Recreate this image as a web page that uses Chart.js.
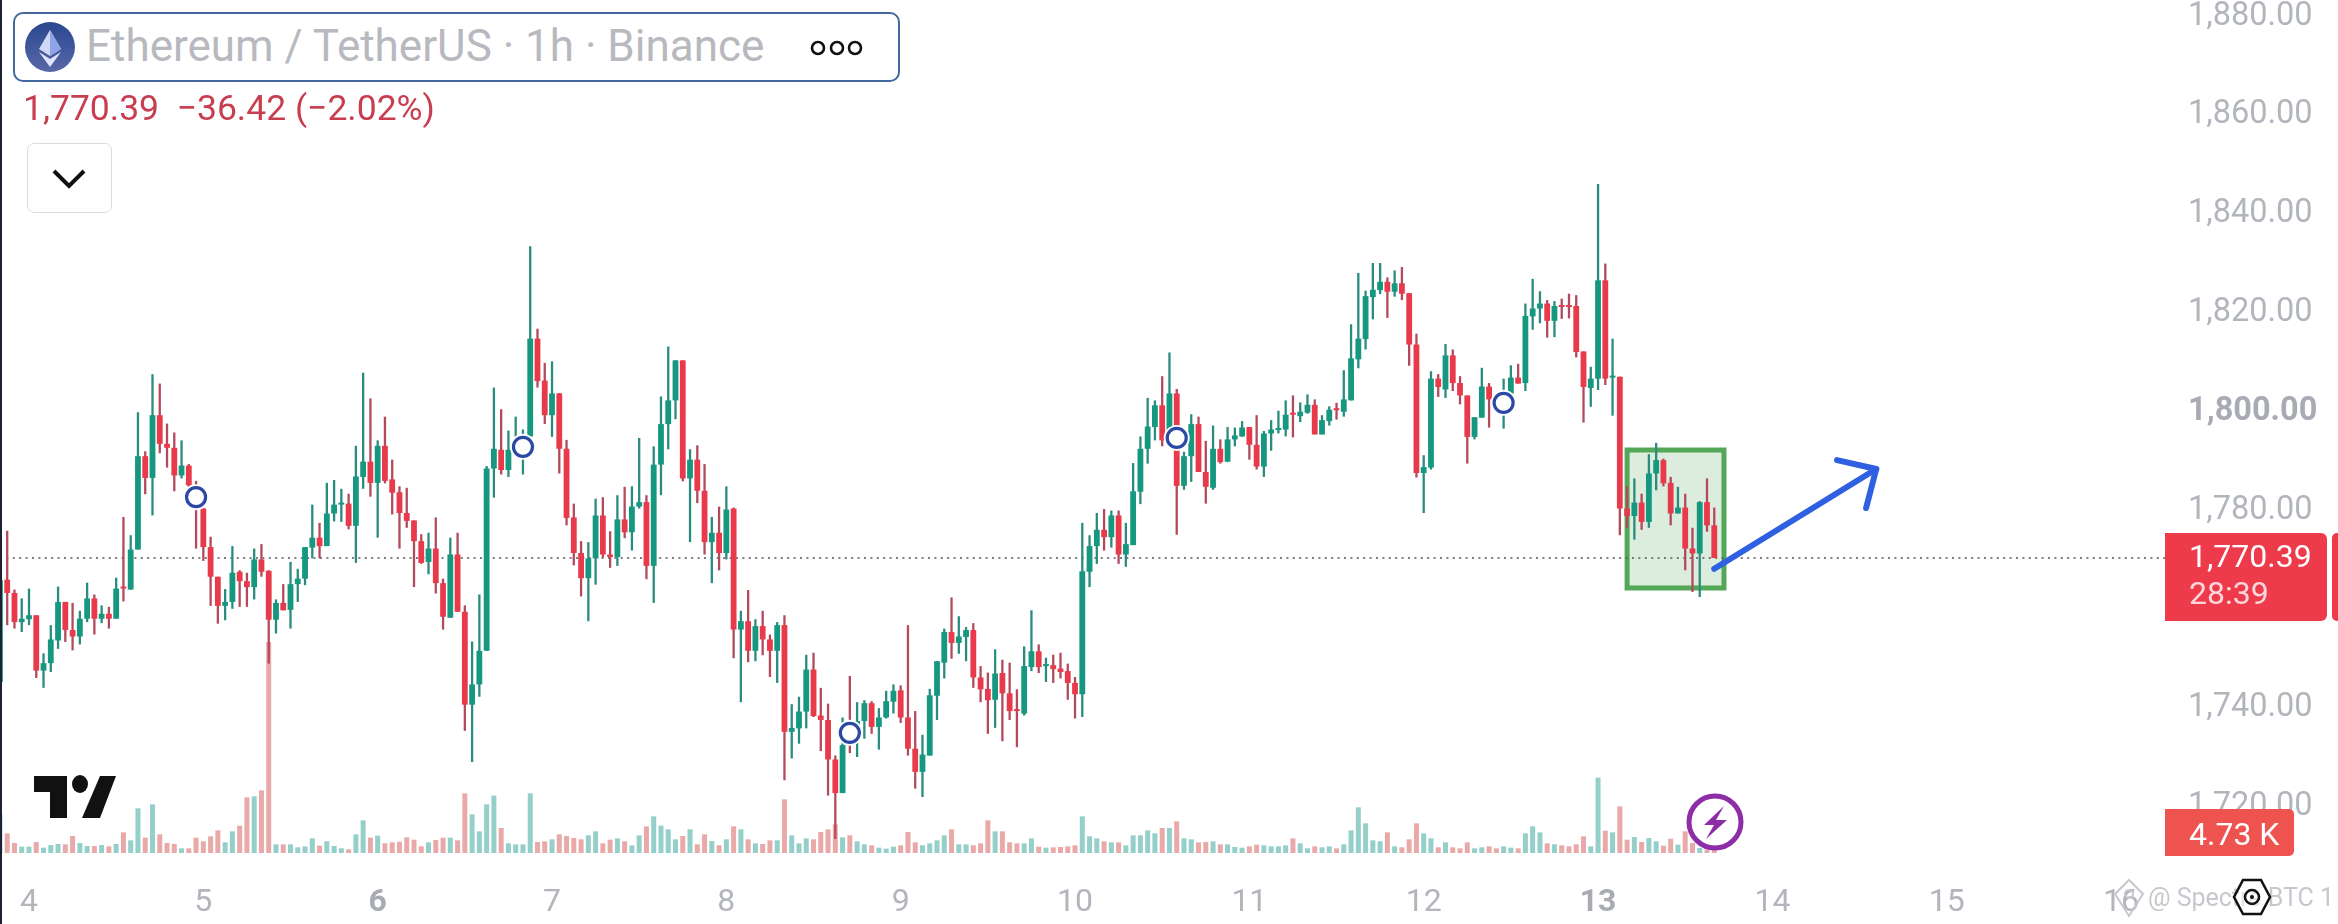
<!DOCTYPE html>
<html>
<head>
<meta charset="utf-8">
<script src="https://cdn.jsdelivr.net/npm/chart.js@4"></script>
<style>
html,body{margin:0;padding:0;background:#fff;width:2338px;height:924px;overflow:hidden;font-family:Roboto,sans-serif}
#c{position:absolute;left:0;top:0}
.t{position:absolute;white-space:pre;line-height:1}
.box{position:absolute;box-sizing:border-box}
svg{position:absolute;overflow:visible}
</style>
</head>
<body>
<canvas id="c" width="2338" height="924"></canvas>
<div class="box" style="left:0;top:0;width:2px;height:924px;background:#1c2230"></div>
<div class="box" style="left:13px;top:12px;width:887px;height:70px;border:2.5px solid #41699e;border-radius:10px;background:#fff"></div>
<svg style="left:0;top:0" width="120" height="90">
<defs><linearGradient id="g" x1="0" y1="0" x2="0" y2="1"><stop offset="0" stop-color="#2a4790"/><stop offset="1" stop-color="#5868a8"/></linearGradient></defs>
<ellipse cx="50" cy="47" rx="25" ry="25" fill="url(#g)"/>
<polygon points="50,30 39,49 50,56 61,49" fill="#cfd8f4"/>
<polygon points="50,30 50,56 61,49" fill="#8fa4e4"/>
<polygon points="39,52 50,67 61,52 50,59" fill="#dfe5fa"/>
</svg>
<div class="t" style="left:86px;top:24px;font-size:44px;color:#b7b9bf">Ethereum / TetherUS · 1h · Binance</div>
<svg style="left:0;top:0" width="900" height="90" fill="none" stroke="#111" stroke-width="2.6">
<circle cx="818" cy="48" r="6"/><circle cx="837" cy="48" r="6"/><circle cx="855" cy="48" r="6"/>
</svg>
<div class="t" style="left:23px;top:91px;font-size:35.5px;color:#c83e50">1,770.39  −36.42 (−2.02%)</div>
<div class="box" style="left:27px;top:143px;width:85px;height:70px;border:1.5px solid #dcdcdc;border-radius:7px;background:#fff"></div>
<svg style="left:0;top:0" width="120" height="220" fill="none" stroke="#111" stroke-width="4"><polyline points="54,171 69,186 84,171"/></svg>
<svg style="left:0;top:0;z-index:2" width="130" height="830" fill="#111">
<polygon points="34,776 67,776 67,818 50,818 50,792 34,792"/>
<ellipse cx="80" cy="784" rx="8" ry="9"/>
<polygon points="100,776 116,776 100,818 82,818"/>
</svg>
<svg style="left:0;top:0;z-index:2" width="1760" height="860">
<circle cx="1715" cy="822" r="26" fill="#fff" stroke="#8e2da8" stroke-width="5"/>
<polygon points="1724,806 1704,825 1714,825 1706,839 1727,820 1716,820" fill="#8e2da8"/>
</svg>
<div class="box" style="left:2165px;top:533px;width:162px;height:88px;background:#ee3b4b;border-radius:0 6px 6px 0"></div>
<div class="box" style="left:2332px;top:533px;width:6px;height:88px;background:#ee3b4b;border-radius:5px 0 0 5px"></div>
<div class="t" style="left:2189px;top:540px;font-size:32px;color:#fff">1,770.39</div>
<div class="t" style="left:2189px;top:577px;font-size:32px;color:#fbd6da">28:39</div>
<div class="box" style="left:2165px;top:809px;width:129px;height:47px;background:#ef5350;border-radius:0 5px 5px 0"></div>
<div class="t" style="left:2189px;top:818px;font-size:32px;color:#fff">4.73 K</div>
<div class="t" style="left:2148px;top:885px;font-size:25px;color:#c6c8ce">@ Spectre BTC 1</div>
<svg style="left:0;top:0" width="2338" height="924" fill="none">
<polygon points="2129,880 2143,894 2129,916 2115,894" stroke="#c6c8ce" stroke-width="2"/>
<circle cx="2129" cy="894" r="4" stroke="#c6c8ce" stroke-width="2"/>
<polygon points="2243,880 2261,880 2270,897 2261,914 2243,914 2234,897" stroke="#111" stroke-width="2.5" fill="#fff" fill-opacity=".5"/>
<circle cx="2252" cy="897" r="7" stroke="#111" stroke-width="2.5"/>
<circle cx="2252" cy="897" r="2" fill="#111"/>
</svg>
<script>
const FIRST_HOUR = -4;
const dayLabels = ['4','5','6','7','8','9','10','11','12','13','14','15','16'];
const dayHours = [0,24,48,72,96,120,144,168,192,216,240,264,288];
const boldDays = ['6','13'];
const priceTicks = [1720,1740,1780,1800,1820,1840,1860,1880];
const boldPrice = 1800;
const lastPrice = 1770.39;
const opens = [1745.3,1766.0,1763.3,1757.4,1758.0,1758.8,1747.6,1749.1,1753.7,1761.5,1755.8,1754.5,1758.1,1762.2,1758.1,1759.1,1758.1,1764.4,1764.0,1772.1,
1791.0,1786.6,1799.3,1793.5,1792.7,1787.1,1789.1,1785.1,1780.4,1772.6,1766.6,1760.7,1761.5,1767.6,1765.7,1764.5,1770.1,1767.8,1757.9,1761.3,
1759.9,1765.1,1766.2,1772.5,1774.5,1772.8,1779.4,1781.2,1781.4,1776.9,1786.8,1789.9,1785.6,1793.1,1786.3,1783.7,1779.5,1778.0,1773.8,1769.6,
1772.3,1765.3,1758.3,1771.1,1759.5,1740.7,1744.8,1751.6,1788.5,1792.3,1788.2,1791.5,1791.9,1795.0,1814.8,1806.3,1799.3,1803.7,1792.5,1778.6,
1771.4,1766.3,1770.3,1779.0,1771.1,1770.6,1778.2,1775.6,1780.8,1781.7,1768.8,1789.3,1797.5,1802.3,1810.4,1786.5,1790.3,1784.0,1773.6,1775.5,
1771.4,1780.4,1755.9,1757.6,1751.6,1756.6,1753.9,1751.6,1756.8,1735.2,1735.9,1739.3,1747.8,1738.5,1737.6,1729.6,1722.8,1736.0,1736.5,1737.4,
1741.0,1736.2,1738.1,1741.3,1743.6,1738.1,1731.8,1727.1,1730.4,1742.5,1749.2,1755.4,1753.2,1754.4,1755.8,1746.2,1743.9,1741.7,1747.1,1743.0,
1739.6,1738.9,1748.3,1751.5,1748.5,1748.7,1748.0,1747.5,1745.1,1742.8,1767.6,1772.8,1776.1,1774.6,1779.0,1771.1,1773.0,1783.8,1792.5,1796.9,
1801.3,1795.6,1803.7,1785.0,1791.0,1797.5,1787.8,1784.6,1792.5,1789.9,1794.4,1795.0,1796.9,1793.3,1788.9,1795.6,1796.3,1796.4,1799.8,1799.1,
1799.8,1801.4,1795.4,1798.1,1800.6,1800.0,1802.3,1810.6,1814.7,1823.2,1824.6,1826.3,1824.3,1826.0,1824.0,1813.6,1787.6,1788.7,1806.7,1804.5,
1811.4,1805.8,1803.3,1794.9,1798.8,1805.1,1802.5,1802.7,1803.7,1806.9,1805.8,1819.3,1820.9,1821.9,1818.4,1821.5,1821.5,1821.4,1812.2,1804.8,
1806.7,1826.6,1806.9,1807.1,1780.4,1778.9,1781.6,1777.7,1787.5,1790.2,1785.6,1779.4,1780.6,1772.3,1771.3,1781.7,1777.0];
const closes = [1765.9,1763.3,1757.4,1758.1,1758.8,1747.6,1749.1,1753.9,1761.5,1755.8,1754.5,1758.1,1762.2,1758.1,1759.1,1758.1,1764.2,1764.2,1772.1,1791.0,
1786.6,1799.3,1793.5,1792.7,1787.1,1789.1,1785.1,1780.4,1772.6,1766.6,1760.7,1761.5,1767.4,1765.7,1764.5,1770.1,1767.6,1757.9,1761.3,1759.8,
1765.1,1766.2,1772.6,1774.5,1772.8,1779.4,1781.2,1781.5,1776.9,1786.9,1789.9,1785.6,1793.1,1786.0,1783.6,1779.5,1777.9,1773.8,1769.4,1772.3,
1765.3,1758.5,1771.1,1759.5,1740.7,1744.8,1751.6,1788.5,1792.5,1788.2,1792.3,1793.4,1795.0,1814.8,1806.2,1799.3,1803.7,1792.5,1778.5,1771.4,
1766.3,1770.3,1779.0,1771.1,1770.6,1778.2,1775.6,1780.8,1781.7,1768.8,1789.3,1797.5,1802.3,1810.4,1786.5,1790.3,1784.0,1773.6,1775.5,1771.4,
1780.2,1755.9,1757.6,1751.6,1756.6,1753.9,1751.6,1756.8,1735.2,1736.0,1739.3,1747.8,1738.4,1737.6,1729.6,1722.8,1732.5,1733.1,1737.4,1741.0,
1736.2,1738.1,1741.4,1743.5,1738.1,1731.8,1727.1,1730.6,1742.6,1749.5,1755.4,1753.2,1754.5,1755.8,1746.2,1743.8,1741.6,1747.0,1743.0,1739.4,
1739.4,1748.5,1751.5,1748.3,1748.7,1747.9,1747.3,1745.1,1742.8,1767.7,1772.8,1776.1,1774.6,1779.0,1771.1,1773.2,1783.9,1792.5,1797.0,1801.3,
1794.2,1803.7,1785.0,1791.0,1797.5,1787.8,1784.8,1792.5,1789.8,1794.4,1795.2,1796.8,1793.3,1788.9,1795.6,1796.4,1796.6,1799.4,1799.4,1800.0,
1801.4,1795.4,1798.3,1800.4,1800.3,1802.5,1810.8,1814.8,1823.4,1824.7,1826.3,1824.3,1826.0,1823.9,1813.6,1787.6,1788.8,1806.7,1805.0,1811.4,
1805.8,1803.3,1794.9,1798.9,1805.1,1802.5,1801.3,1804.0,1806.9,1805.7,1819.4,1820.9,1821.9,1818.4,1821.4,1821.2,1821.2,1812.1,1805.0,1806.7,
1826.6,1806.7,1807.2,1780.4,1778.9,1781.6,1777.7,1787.5,1790.2,1785.5,1779.4,1780.6,1772.3,1771.3,1781.7,1777.0,1770.39];
const highs = [1765.9,1775.9,1764.0,1762.2,1764.2,1758.8,1751.1,1756.8,1764.6,1761.5,1761.3,1759.7,1765.4,1763.0,1760.8,1760.5,1766.4,1778.7,1775.0,1799.9,
1792.0,1807.6,1805.7,1797.6,1795.8,1794.2,1789.4,1786.0,1780.6,1774.7,1766.6,1764.1,1772.8,1767.9,1767.4,1772.3,1773.2,1767.9,1762.0,1765.1,
1769.6,1768.2,1772.6,1781.2,1777.5,1785.6,1786.2,1784.4,1783.4,1793.1,1807.9,1802.7,1794.2,1799.0,1790.3,1784.9,1784.6,1778.0,1775.2,1775.5,
1778.6,1766.2,1774.5,1775.5,1760.8,1753.5,1763.0,1789.0,1804.9,1800.5,1796.2,1799.0,1796.4,1833.5,1816.8,1809.9,1810.2,1803.8,1794.3,1781.4,
1773.8,1773.6,1782.4,1782.7,1775.8,1783.1,1784.8,1784.9,1794.7,1783.1,1793.0,1803.1,1813.2,1810.4,1810.4,1792.4,1793.2,1789.4,1778.7,1780.8,
1784.9,1780.6,1759.7,1763.9,1758.0,1759.7,1754.9,1757.4,1758.8,1740.8,1742.3,1750.8,1751.2,1744.1,1740.9,1730.4,1738.1,1746.5,1741.2,1741.6,
1741.4,1740.0,1743.5,1744.8,1744.6,1756.8,1739.4,1734.6,1743.9,1749.5,1756.1,1762.4,1758.6,1756.4,1757.2,1748.5,1747.2,1751.9,1749.8,1749.2,
1743.8,1752.5,1759.8,1752.9,1750.2,1750.8,1751.2,1749.0,1746.3,1777.5,1775.0,1779.5,1780.3,1780.0,1780.0,1777.5,1789.6,1795.0,1802.8,1802.3,
1807.2,1812.0,1804.6,1791.9,1799.5,1799.0,1794.1,1797.2,1794.4,1796.9,1796.8,1798.1,1796.9,1799.3,1796.1,1798.3,1800.2,1802.3,1803.3,1801.9,
1803.5,1802.5,1799.3,1801.1,1801.8,1808.4,1817.7,1828.1,1824.5,1830.1,1830.1,1827.2,1828.6,1829.3,1824.0,1815.8,1791.2,1808.2,1807.6,1813.7,
1812.6,1807.2,1803.3,1798.9,1808.9,1805.8,1803.0,1806.7,1809.4,1809.7,1821.9,1826.9,1824.4,1822.6,1822.4,1822.9,1823.9,1823.6,1812.2,1809.1,
1846.1,1830.0,1814.8,1807.1,1784.9,1786.5,1783.4,1791.4,1793.7,1790.5,1786.8,1784.8,1783.4,1776.5,1781.9,1786.5,1780.6];
const lows = [1745.3,1756.8,1756.1,1755.4,1756.8,1746.1,1744.1,1747.3,1752.0,1753.4,1751.7,1752.9,1757.4,1754.9,1757.2,1756.1,1758.1,1761.6,1764.0,1772.1,
1783.3,1779.0,1791.6,1788.7,1783.9,1786.5,1784.8,1772.3,1769.8,1760.7,1757.1,1757.8,1760.1,1760.5,1760.5,1762.0,1766.6,1749.0,1755.1,1759.8,
1756.1,1761.5,1764.9,1770.3,1770.3,1772.8,1777.8,1777.7,1776.2,1769.4,1784.4,1782.8,1774.5,1785.5,1779.2,1772.3,1776.5,1764.5,1769.2,1767.1,
1763.2,1755.9,1758.3,1759.5,1735.4,1729.1,1742.3,1751.6,1782.6,1787.3,1786.8,1790.9,1787.3,1795.0,1804.9,1797.5,1794.9,1787.5,1777.0,1768.9,
1762.6,1757.6,1765.0,1770.5,1768.4,1768.8,1774.4,1771.9,1780.4,1766.1,1761.3,1783.1,1792.4,1798.5,1785.9,1773.6,1781.5,1771.1,1765.3,1767.9,
1770.1,1750.1,1741.2,1749.3,1749.5,1750.7,1746.3,1745.1,1725.4,1729.8,1732.8,1735.9,1738.2,1731.3,1722.3,1713.5,1722.8,1730.9,1730.1,1733.8,
1734.8,1731.6,1737.9,1738.9,1737.0,1730.4,1723.7,1722.0,1730.4,1737.6,1746.0,1750.0,1751.0,1749.5,1744.1,1741.2,1734.8,1736.0,1733.3,1737.6,
1732.1,1738.5,1747.5,1747.1,1745.3,1745.1,1746.0,1741.7,1737.9,1738.2,1764.5,1769.2,1771.9,1772.5,1769.2,1768.6,1773.0,1781.3,1789.5,1794.2,
1793.0,1794.9,1775.1,1784.2,1785.8,1787.8,1781.4,1784.2,1789.5,1789.8,1793.0,1794.9,1790.3,1788.3,1786.8,1792.1,1795.6,1795.0,1794.8,1797.9,
1799.6,1795.4,1795.4,1797.2,1798.4,1799.0,1802.3,1808.8,1812.6,1818.7,1823.8,1819.0,1823.3,1822.6,1809.3,1786.7,1779.5,1788.3,1803.0,1802.8,
1804.2,1801.5,1789.5,1794.4,1798.8,1796.8,1801.0,1796.6,1803.7,1805.7,1804.2,1816.6,1817.9,1815.0,1815.1,1818.8,1818.9,1811.0,1797.8,1801.0,
1804.4,1805.4,1799.2,1775.0,1776.5,1774.1,1776.1,1776.5,1784.1,1784.9,1777.0,1779.4,1767.9,1763.5,1762.5,1775.7,1770.39];
const volumes = [46.4,23.6,12,7.6,7.6,13.2,6.4,9.6,10.8,10.4,20.4,12,8.4,8.4,9.6,8,10.8,24.8,15.2,53.6,
18.4,58.4,22.4,12,10.8,5.6,5.6,18.4,14,20,27.2,12.8,26,32.8,66.8,68,75.2,253.2,10.4,10.4,
10.4,6.8,8,17.6,8.8,14,8.4,5.6,4.4,22.4,39.2,18.4,20.8,11.6,12.8,13.6,18.8,16,8,12.8,
15.6,18.4,18.4,15.2,71.6,46.4,26,58.4,68.8,30,11.6,10.4,10.4,71.6,13.2,14,16.4,22.4,20.4,18,
16.4,21.2,26,11.6,16,17.6,14,9.2,21.2,32,44,32.8,28.4,16.4,20.4,28.4,10.4,22.4,14.4,9.2,
16.4,32,28.4,16.4,11.6,10.8,15.2,15.2,64.4,21.2,11.6,17.6,16.4,25.2,28.4,34.4,18.8,21.2,14,10.4,
9.2,6.4,5.2,7.6,9.2,25.2,12.8,9.2,11.6,15.2,21.2,28.4,10.4,10.4,9.2,11.6,39.2,26,26,12.8,
11.6,11.6,17.6,7.6,6.4,6.8,7.2,8,9.2,44,20,17.6,14,12.8,12.8,9.2,21.2,21.2,27.2,23.6,
30,30,38,17.6,16.4,12.8,13.2,14,10.4,10.4,7.2,6.4,8,10,9.2,8,8,9.2,17.6,11.6,
5.6,8,6.8,8,5.6,10.4,27.2,54.8,35.6,15.2,14,24.8,8,6.8,16.4,35.6,23.6,17.6,6.8,12.8,
6.8,5.6,12.8,5.6,6.8,8,5.6,8,6.4,5.6,23.6,32,24.8,11.6,10.4,9.2,8,10.4,20,8,
90.4,26.8,24.8,56,16,19.2,13.2,18,14,8.8,17.2,10,26,12,6,4,4.73];
const ideaHours = [23,68,113,158,203];
const ideaPrices = [1782.7,1792.9,1735.0,1794.7,1801.8];
const boxHours = [220,233.34];
const boxPrices = [1764.32,1792.25];
const arrowHours = [232.0,254.3];
const arrowPrices = [1768.2,1788.4];
const arrowWingA = [248.9,1790.2];
const arrowWingB = [252.9,1780.5];

const GREEN='#15987f', RED='#e93a4c', GREEN_W='#2a8c7e', RED_W='#b24a5c', GREEN_V='#94cfc9', RED_V='#eaa9a9';
const hours = opens.map((_,i)=>FIRST_HOUR+i);
const up = i => closes[i] >= opens[i];
const XMIN=-3.992, XMAX=294.05, YMIN=1710.67, YMAX=1883.35, VMAX=1023.6;
const dayAt = v => dayLabels[dayHours.indexOf(v)];
const isBoldDay = ctx => !!ctx.tick && boldDays.includes(dayAt(ctx.tick.value));
const isBoldPrice = ctx => !!ctx.tick && ctx.tick.value===boldPrice;
const noPad = s => { s.paddingTop=0; s.paddingBottom=0; s.paddingLeft=0; s.paddingRight=0; };

const bg = {
  id:'box',
  beforeDatasetsDraw(ch){
    const {x,y}=ch.scales, c=ch.ctx;
    const l=x.getPixelForValue(boxHours[0]), r=x.getPixelForValue(boxHours[1]);
    const t=y.getPixelForValue(boxPrices[1]), b=y.getPixelForValue(boxPrices[0]);
    c.save();
    c.fillStyle='#dcecdd'; c.fillRect(l,t,r-l,b-t);
    c.strokeStyle='#53a858'; c.lineWidth=5; c.strokeRect(l,t,r-l,b-t);
    c.restore();
  },
  afterDatasetsDraw(ch){
    const {x,y}=ch.scales, c=ch.ctx;
    const P=(h,p)=>[x.getPixelForValue(h),y.getPixelForValue(p)];
    const a=P(arrowHours[0],arrowPrices[0]), b=P(arrowHours[1],arrowPrices[1]);
    const w1=P(...arrowWingA), w2=P(...arrowWingB);
    c.save();
    c.strokeStyle='#2f60e2'; c.lineWidth=6; c.lineCap='round'; c.lineJoin='round';
    c.beginPath(); c.moveTo(...a); c.lineTo(...b); c.stroke();
    c.beginPath(); c.moveTo(...w1); c.lineTo(...b); c.lineTo(...w2); c.stroke();
    c.restore();
  }
};

new Chart(document.getElementById('c'),{
  type:'bar',
  data:{datasets:[
    {type:'bar',label:'Volume',yAxisID:'yV',order:6,grouped:false,barPercentage:1,maxBarThickness:5,
     data:hours.map((h,i)=>({x:h,y:volumes[i]})),
     backgroundColor:hours.map((_,i)=>up(i)?GREEN_V:RED_V)},
    {type:'line',label:'Last',yAxisID:'y',order:5,data:[{x:XMIN,y:lastPrice},{x:XMAX,y:lastPrice}],
     borderColor:'#555',borderWidth:1.6,borderDash:[2,4.4],pointRadius:0},
    {type:'bar',label:'Wick',yAxisID:'y',order:4,grouped:false,barPercentage:1,maxBarThickness:2.3,
     data:hours.map((h,i)=>({x:h,y:[lows[i],highs[i]]})),
     backgroundColor:hours.map((_,i)=>up(i)?GREEN_W:RED_W)},
    {type:'bar',label:'Body',yAxisID:'y',order:3,grouped:false,barPercentage:1,maxBarThickness:7.2,minBarLength:2,
     data:hours.map((h,i)=>({x:h,y:[Math.min(opens[i],closes[i]),Math.max(opens[i],closes[i])]})),
     backgroundColor:hours.map((_,i)=>up(i)?GREEN:RED)},
    {type:'line',label:'Halo',yAxisID:'y',order:2,showLine:false,data:ideaHours.map((h,i)=>({x:h,y:ideaPrices[i]})),
     pointRadius:13,pointBackgroundColor:'#fff',pointBorderWidth:0,pointStyle:'circle'},
    {type:'line',label:'Ideas',yAxisID:'y',order:1,showLine:false,data:ideaHours.map((h,i)=>({x:h,y:ideaPrices[i]})),
     pointRadius:9.5,pointBackgroundColor:'#fff',pointBorderColor:'#2a49a4',pointBorderWidth:3.2,pointStyle:'circle'}
  ]},
  options:{
    responsive:false,animation:false,devicePixelRatio:1,
    layout:{padding:0,autoPadding:false},
    plugins:{legend:{display:false},tooltip:{enabled:false}},
    scales:{
      x:{type:'linear',position:'bottom',min:XMIN,max:XMAX,offset:false,
        grid:{display:false},border:{display:false},
        afterBuildTicks:s=>{s.ticks=dayHours.map(value=>({value}));},
        afterFit:s=>{s.height=71;noPad(s);},
        ticks:{autoSkip:false,maxRotation:0,padding:23,
          callback:v=>dayAt(v),
          color:ctx=>isBoldDay(ctx)?'#a8abb3':'#b2b5bc',
          font:ctx=>({family:'Roboto',size:32,weight:isBoldDay(ctx)?'700':'400'})}},
      y:{type:'linear',position:'right',min:YMIN,max:YMAX,
        grid:{display:false},border:{display:false},
        afterBuildTicks:s=>{s.ticks=priceTicks.map(value=>({value}));},
        afterFit:s=>{s.width=173;noPad(s);},
        ticks:{crossAlign:'near',padding:15,labelOffset:0,
          callback:v=>v.toLocaleString('en-US',{minimumFractionDigits:2,maximumFractionDigits:2}),
          color:ctx=>isBoldPrice(ctx)?'#a8abb3':'#b2b5bc',
          font:ctx=>({family:'Roboto',size:32.5,weight:isBoldPrice(ctx)?'700':'400'})}},
      yV:{type:'linear',display:false,position:'right',min:0,max:VMAX}
    }
  },
  plugins:[bg]
});
</script>
</body>
</html>
